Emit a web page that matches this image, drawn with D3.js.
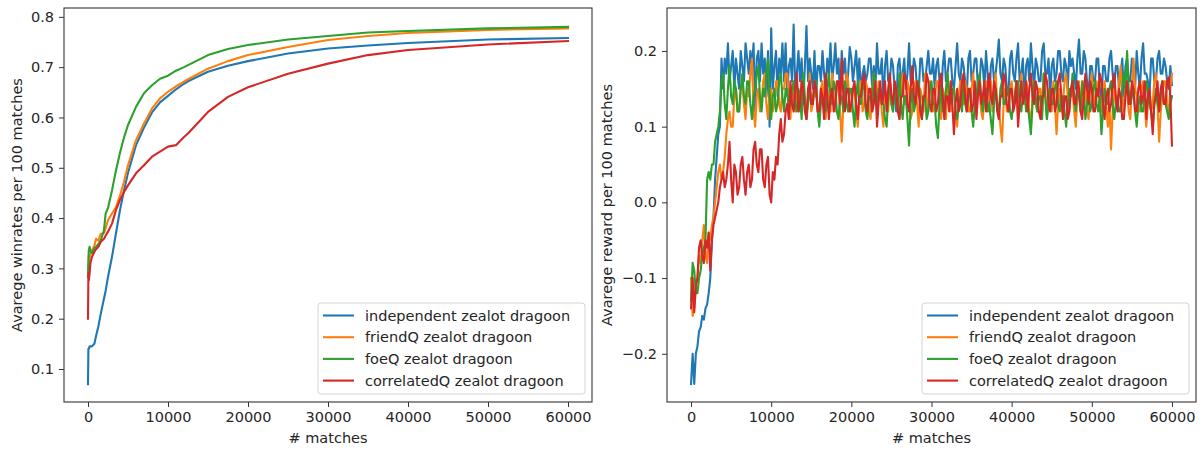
<!DOCTYPE html>
<html>
<head>
<meta charset="utf-8">
<script src="https://cdn.jsdelivr.net/npm/d3@7"></script>
<style>
  body { margin: 0; background: #fff; }
  svg text { font-family: "DejaVu Sans", sans-serif; fill: #262626; }
</style>
</head>
<body>
<script>
// series names + colours (matplotlib tab10)
const seriesNames = ["independent zealot dragoon", "friendQ zealot dragoon", "foeQ zealot dragoon", "correlatedQ zealot dragoon"];
const colors = ["#1f77b4", "#ff7f0e", "#2ca02c", "#d62728"];

// left plot: average winrate, sampled at these match counts
const winMatches = [0, 50, 100, 200, 300, 500, 800, 1000, 1300, 1600, 2000, 2200, 2500, 3000, 3500, 4000, 4500, 5000, 6000, 7000, 8000, 9000, 10000, 11000, 12000, 12500, 15000, 17500, 20000, 25000, 30000, 35000, 40000, 50000, 60000];
const winIndependent = [0.07, 0.14, 0.14, 0.145, 0.145, 0.145, 0.15, 0.165, 0.185, 0.21, 0.24, 0.255, 0.283, 0.323, 0.37, 0.416, 0.455, 0.49, 0.545, 0.58, 0.61, 0.63, 0.643, 0.656, 0.667, 0.672, 0.691, 0.703, 0.712, 0.727, 0.737, 0.743, 0.748, 0.755, 0.758];
const winFriendQ = [0.283, 0.30, 0.31, 0.32, 0.33, 0.336, 0.345, 0.359, 0.355, 0.369, 0.37, 0.38, 0.396, 0.409, 0.422, 0.445, 0.472, 0.505, 0.555, 0.588, 0.618, 0.638, 0.651, 0.662, 0.671, 0.676, 0.697, 0.712, 0.724, 0.74, 0.754, 0.762, 0.768, 0.774, 0.777];
const winFoeQ = [0.283, 0.32, 0.336, 0.343, 0.335, 0.33, 0.34, 0.343, 0.348, 0.356, 0.376, 0.409, 0.42, 0.455, 0.495, 0.53, 0.56, 0.585, 0.621, 0.648, 0.664, 0.677, 0.683, 0.693, 0.70, 0.704, 0.724, 0.736, 0.744, 0.755, 0.762, 0.769, 0.772, 0.777, 0.780];
const winCorrelatedQ = [0.20, 0.29, 0.276, 0.29, 0.31, 0.323, 0.333, 0.338, 0.343, 0.353, 0.359, 0.365, 0.373, 0.389, 0.416, 0.436, 0.452, 0.465, 0.489, 0.505, 0.522, 0.532, 0.542, 0.545, 0.561, 0.568, 0.611, 0.641, 0.66, 0.687, 0.707, 0.724, 0.734, 0.745, 0.752];

// right plot: average reward per 100 matches, one value every 200 matches (0 .. 60000)
const rewIndependent = [
  -0.24, -0.20, -0.24, -0.20, -0.19, -0.17, -0.165, -0.15, -0.155, -0.14,
  -0.135, -0.12, -0.10, -0.05, -0.02, 0.03, 0.06, 0.09, 0.10, 0.19,
  0.15, 0.19, 0.17, 0.21, 0.16, 0.18, 0.20, 0.15, 0.19, 0.17,
  0.15, 0.20, 0.18, 0.16, 0.21, 0.19, 0.17, 0.20, 0.18, 0.21,
  0.12, 0.19, 0.20, 0.16, 0.21, 0.17, 0.19, 0.14, 0.20, 0.10,
  0.23, 0.15, 0.18, 0.20, 0.14, 0.19, 0.17, 0.21, 0.16, 0.21,
  0.14, 0.18, 0.19, 0.16, 0.235, 0.15, 0.17, 0.20, 0.16, 0.19,
  0.13, 0.18, 0.233, 0.16, 0.19, 0.17, 0.15, 0.20, 0.14, 0.18,
  0.18, 0.16, 0.20, 0.17, 0.15, 0.19, 0.17, 0.21, 0.16, 0.18,
  0.21, 0.17, 0.19, 0.13, 0.20, 0.17, 0.19, 0.15, 0.17, 0.205,
  0.19, 0.16, 0.18, 0.20, 0.16, 0.19, 0.14, 0.17, 0.18, 0.16,
  0.17, 0.19, 0.19, 0.15, 0.18, 0.15, 0.21, 0.17, 0.17, 0.19,
  0.13, 0.18, 0.20, 0.16, 0.16, 0.19, 0.18, 0.15, 0.12, 0.18,
  0.19, 0.16, 0.17, 0.19, 0.15, 0.17, 0.21, 0.16, 0.16, 0.19,
  0.18, 0.15, 0.14, 0.19, 0.19, 0.16, 0.16, 0.18, 0.20, 0.17,
  0.17, 0.19, 0.15, 0.18, 0.19, 0.16, 0.13, 0.18, 0.20, 0.16,
  0.17, 0.19, 0.19, 0.16, 0.15, 0.18, 0.21, 0.17, 0.16, 0.19,
  0.18, 0.16, 0.14, 0.19, 0.20, 0.16, 0.17, 0.19, 0.19, 0.15,
  0.16, 0.19, 0.18, 0.15, 0.20, 0.17, 0.12, 0.18, 0.19, 0.16,
  0.17, 0.19, 0.215, 0.17, 0.16, 0.19, 0.18, 0.15, 0.14, 0.19,
  0.20, 0.17, 0.16, 0.19, 0.21, 0.16, 0.17, 0.19, 0.13, 0.18,
  0.19, 0.16, 0.21, 0.18, 0.15, 0.19, 0.18, 0.16, 0.16, 0.20,
  0.21, 0.17, 0.17, 0.19, 0.14, 0.18, 0.19, 0.16, 0.17, 0.20,
  0.20, 0.17, 0.16, 0.19, 0.18, 0.15, 0.20, 0.18, 0.19, 0.17,
  0.15, 0.19, 0.215, 0.17, 0.17, 0.20, 0.19, 0.16, 0.14, 0.18,
  0.18, 0.16, 0.16, 0.19, 0.19, 0.15, 0.13, 0.18, 0.18, 0.16,
  0.16, 0.19, 0.20, 0.17, 0.15, 0.18, 0.18, 0.15, 0.17, 0.19,
  0.14, 0.18, 0.19, 0.16, 0.16, 0.19, 0.18, 0.15, 0.20, 0.17,
  0.15, 0.19, 0.21, 0.17, 0.17, 0.16, 0.14, 0.19, 0.19, 0.16,
  0.16, 0.19, 0.20, 0.17, 0.17, 0.19, 0.18, 0.16, 0.15, 0.18,
  0.155];
const rewFriendQ = [
  -0.10, -0.15, -0.14, -0.11, -0.10, -0.07, -0.08, -0.05, -0.03, -0.07,
  -0.08, -0.04, -0.05, -0.03, -0.02, 0.00, 0.02, 0.04, 0.05, 0.03,
  0.04, 0.06, 0.09, 0.11, 0.12, 0.10, 0.10, 0.14, 0.15, 0.12,
  0.12, 0.15, 0.16, 0.13, 0.11, 0.15, 0.14, 0.17, 0.19, 0.12,
  0.10, 0.14, 0.15, 0.12, 0.13, 0.16, 0.17, 0.13, 0.11, 0.15,
  0.15, 0.12, 0.13, 0.16, 0.16, 0.13, 0.12, 0.15, 0.15, 0.17,
  0.17, 0.13, 0.11, 0.15, 0.14, 0.12, 0.16, 0.13, 0.12, 0.16,
  0.15, 0.13, 0.11, 0.14, 0.17, 0.12, 0.13, 0.16, 0.15, 0.12,
  0.12, 0.15, 0.16, 0.13, 0.11, 0.15, 0.14, 0.12, 0.17, 0.14,
  0.12, 0.16, 0.15, 0.12, 0.08, 0.13, 0.14, 0.17, 0.16, 0.13,
  0.12, 0.15, 0.15, 0.12, 0.10, 0.14, 0.16, 0.12, 0.13, 0.16,
  0.15, 0.12, 0.11, 0.15, 0.17, 0.14, 0.13, 0.16, 0.15, 0.12,
  0.10, 0.15, 0.14, 0.12, 0.16, 0.13, 0.12, 0.16, 0.15, 0.13,
  0.11, 0.14, 0.17, 0.13, 0.13, 0.16, 0.15, 0.11, 0.12, 0.15,
  0.16, 0.13, 0.10, 0.15, 0.14, 0.12, 0.17, 0.14, 0.12, 0.16,
  0.15, 0.12, 0.13, 0.16, 0.16, 0.13, 0.11, 0.15, 0.14, 0.11,
  0.17, 0.14, 0.12, 0.15, 0.15, 0.12, 0.10, 0.14, 0.16, 0.13,
  0.13, 0.16, 0.15, 0.12, 0.12, 0.15, 0.17, 0.14, 0.13, 0.16,
  0.15, 0.12, 0.11, 0.14, 0.16, 0.13, 0.14, 0.16, 0.12, 0.15,
  0.17, 0.13, 0.13, 0.10, 0.08, 0.13, 0.15, 0.12, 0.12, 0.15,
  0.16, 0.13, 0.14, 0.16, 0.11, 0.14, 0.17, 0.14, 0.13, 0.16,
  0.15, 0.12, 0.10, 0.14, 0.16, 0.13, 0.12, 0.15, 0.15, 0.12,
  0.17, 0.14, 0.11, 0.15, 0.14, 0.12, 0.16, 0.13, 0.09, 0.13,
  0.15, 0.12, 0.13, 0.16, 0.17, 0.14, 0.12, 0.15, 0.15, 0.12,
  0.10, 0.14, 0.16, 0.13, 0.13, 0.16, 0.15, 0.12, 0.11, 0.15,
  0.17, 0.14, 0.13, 0.16, 0.15, 0.12, 0.12, 0.15, 0.16, 0.13,
  0.10, 0.13, 0.07, 0.12, 0.15, 0.13, 0.13, 0.16, 0.18, 0.14,
  0.12, 0.15, 0.15, 0.12, 0.11, 0.15, 0.19, 0.15, 0.14, 0.12,
  0.12, 0.15, 0.16, 0.13, 0.10, 0.13, 0.15, 0.12, 0.13, 0.16,
  0.17, 0.13, 0.08, 0.12, 0.14, 0.16, 0.16, 0.13, 0.12, 0.15,
  0.17];
const rewFoeQ = [
  -0.13, -0.08, -0.09, -0.12, -0.12, -0.10, -0.09, -0.07, -0.06, -0.05,
  0.03, 0.04, 0.03, 0.05, 0.05, 0.08, 0.09, 0.10, 0.12, 0.16,
  0.17, 0.13, 0.11, 0.15, 0.18, 0.14, 0.13, 0.16, 0.15, 0.12,
  0.12, 0.15, 0.17, 0.14, 0.13, 0.16, 0.16, 0.13, 0.11, 0.14,
  0.15, 0.17, 0.18, 0.14, 0.12, 0.15, 0.14, 0.17, 0.19, 0.14,
  0.11, 0.14, 0.15, 0.12, 0.13, 0.16, 0.17, 0.14, 0.12, 0.15,
  0.15, 0.12, 0.13, 0.15, 0.16, 0.13, 0.12, 0.15, 0.14, 0.11,
  0.17, 0.14, 0.11, 0.13, 0.15, 0.13, 0.13, 0.16, 0.16, 0.12,
  0.10, 0.13, 0.14, 0.12, 0.12, 0.15, 0.17, 0.14, 0.13, 0.16,
  0.15, 0.12, 0.11, 0.14, 0.14, 0.12, 0.16, 0.13, 0.12, 0.15,
  0.15, 0.12, 0.10, 0.14, 0.16, 0.13, 0.13, 0.16, 0.15, 0.12,
  0.11, 0.14, 0.14, 0.12, 0.17, 0.14, 0.12, 0.15, 0.15, 0.13,
  0.13, 0.11, 0.10, 0.14, 0.16, 0.13, 0.12, 0.15, 0.14, 0.12,
  0.17, 0.13, 0.11, 0.14, 0.14, 0.11, 0.075, 0.13, 0.15, 0.12,
  0.13, 0.15, 0.16, 0.13, 0.11, 0.14, 0.14, 0.11, 0.12, 0.15,
  0.16, 0.13, 0.13, 0.10, 0.085, 0.13, 0.15, 0.12, 0.12, 0.15,
  0.17, 0.14, 0.13, 0.15, 0.15, 0.12, 0.11, 0.13, 0.14, 0.12,
  0.16, 0.13, 0.12, 0.14, 0.15, 0.12, 0.10, 0.13, 0.14, 0.16,
  0.17, 0.14, 0.12, 0.14, 0.15, 0.12, 0.13, 0.11, 0.09, 0.13,
  0.15, 0.13, 0.12, 0.15, 0.16, 0.13, 0.13, 0.15, 0.15, 0.12,
  0.11, 0.13, 0.14, 0.16, 0.16, 0.13, 0.12, 0.14, 0.15, 0.12,
  0.13, 0.11, 0.09, 0.13, 0.16, 0.14, 0.12, 0.14, 0.14, 0.11,
  0.17, 0.14, 0.11, 0.13, 0.15, 0.13, 0.13, 0.15, 0.16, 0.13,
  0.12, 0.14, 0.14, 0.12, 0.10, 0.13, 0.15, 0.14, 0.17, 0.14,
  0.12, 0.15, 0.14, 0.12, 0.16, 0.14, 0.11, 0.13, 0.15, 0.12,
  0.13, 0.15, 0.16, 0.13, 0.12, 0.14, 0.09, 0.12, 0.15, 0.13,
  0.13, 0.15, 0.16, 0.13, 0.11, 0.13, 0.14, 0.12, 0.12, 0.15,
  0.17, 0.15, 0.20, 0.15, 0.13, 0.14, 0.15, 0.12, 0.10, 0.13,
  0.14, 0.12, 0.12, 0.15, 0.16, 0.14, 0.13, 0.12, 0.10, 0.13,
  0.15, 0.13, 0.12, 0.14, 0.16, 0.13, 0.13, 0.12, 0.11, 0.13,
  0.14];
const rewCorrelatedQ = [
  -0.14, -0.10, -0.145, -0.11, -0.10, -0.06, -0.05, -0.07, -0.08, -0.05,
  -0.06, -0.04, -0.09, -0.05, -0.03, -0.02, -0.01, 0.00, 0.02, 0.03,
  0.04, 0.02, 0.03, 0.05, 0.08, 0.03, 0.00, 0.05, 0.04, 0.01,
  0.02, 0.05, 0.06, 0.03, 0.01, 0.04, 0.05, 0.02, 0.03, 0.07,
  0.08, 0.05, 0.04, 0.07, 0.07, 0.03, 0.02, 0.05, 0.06, 0.01,
  0.00, 0.04, 0.03, 0.06, 0.05, 0.09, 0.11, 0.08, 0.09, 0.12,
  0.13, 0.11, 0.16, 0.13, 0.12, 0.15, 0.17, 0.12, 0.13, 0.16,
  0.15, 0.12, 0.11, 0.15, 0.16, 0.13, 0.13, 0.16, 0.15, 0.12,
  0.12, 0.15, 0.14, 0.11, 0.17, 0.14, 0.11, 0.14, 0.15, 0.12,
  0.13, 0.16, 0.16, 0.13, 0.19, 0.14, 0.12, 0.15, 0.15, 0.12,
  0.13, 0.15, 0.16, 0.13, 0.11, 0.14, 0.14, 0.16, 0.17, 0.13,
  0.12, 0.15, 0.15, 0.12, 0.13, 0.16, 0.10, 0.13, 0.16, 0.13,
  0.14, 0.16, 0.12, 0.15, 0.17, 0.14, 0.13, 0.16, 0.15, 0.12,
  0.11, 0.14, 0.14, 0.17, 0.16, 0.13, 0.12, 0.15, 0.18, 0.14,
  0.13, 0.16, 0.15, 0.12, 0.11, 0.14, 0.14, 0.17, 0.16, 0.13,
  0.12, 0.15, 0.15, 0.12, 0.13, 0.16, 0.17, 0.14, 0.11, 0.14,
  0.14, 0.12, 0.16, 0.13, 0.09, 0.13, 0.15, 0.12, 0.13, 0.16,
  0.17, 0.14, 0.12, 0.15, 0.15, 0.12, 0.13, 0.16, 0.11, 0.14,
  0.16, 0.13, 0.14, 0.16, 0.12, 0.15, 0.17, 0.14, 0.13, 0.16,
  0.15, 0.12, 0.11, 0.14, 0.14, 0.17, 0.16, 0.13, 0.12, 0.15,
  0.15, 0.12, 0.13, 0.16, 0.10, 0.13, 0.16, 0.13, 0.14, 0.16,
  0.12, 0.15, 0.17, 0.14, 0.13, 0.16, 0.15, 0.12, 0.11, 0.14,
  0.14, 0.17, 0.16, 0.13, 0.12, 0.15, 0.15, 0.12, 0.13, 0.16,
  0.17, 0.14, 0.11, 0.14, 0.14, 0.11, 0.12, 0.15, 0.16, 0.13,
  0.13, 0.16, 0.15, 0.12, 0.11, 0.14, 0.17, 0.15, 0.13, 0.16,
  0.15, 0.12, 0.12, 0.15, 0.14, 0.17, 0.16, 0.13, 0.11, 0.14,
  0.15, 0.12, 0.13, 0.16, 0.17, 0.14, 0.12, 0.15, 0.14, 0.11,
  0.11, 0.14, 0.16, 0.13, 0.13, 0.16, 0.15, 0.12, 0.12, 0.15,
  0.16, 0.13, 0.14, 0.16, 0.11, 0.14, 0.15, 0.12, 0.09, 0.13,
  0.14, 0.16, 0.12, 0.15, 0.16, 0.13, 0.13, 0.16, 0.165, 0.14,
  0.075];

const xTicks = [0, 10000, 20000, 30000, 40000, 50000, 60000];
const winTicks = [0.1, 0.2, 0.3, 0.4, 0.5, 0.6, 0.7, 0.8];
const rewTicks = [-0.2, -0.1, 0.0, 0.1, 0.2];

const W = 1201, H = 450;
const svg = d3.select("body").append("svg")
    .attr("width", W)
    .attr("height", H);

function drawPanel(opts) {
    const g = svg.append("g");
    const x = d3.scaleLinear().domain([-3000, 63000]).range([opts.left, opts.right]);
    const y = d3.scaleLinear().domain(opts.yDomain).range([402, 8]);

    const line = d3.line()
        .x(d => x(d[0]))
        .y(d => y(d[1]));

    opts.series.forEach((vals, i) => {
        const pts = vals.map((v, j) => [opts.xs ? opts.xs[j] : j * 60000 / (vals.length - 1), v]);
        g.append("path")
            .attr("d", line(pts))
            .attr("fill", "none")
            .attr("stroke", colors[i])
            .attr("stroke-width", 2.1)
            .attr("stroke-linejoin", "round")
            .attr("stroke-linecap", "square");
    });

    // axes
    const xAxis = g.append("g")
        .attr("transform", "translate(0,402)")
        .call(d3.axisBottom(x).tickValues(xTicks).tickSize(5).tickPadding(5).tickSizeOuter(0).tickFormat(d3.format("d")));
    const yAxis = g.append("g")
        .attr("transform", "translate(" + opts.left + ",0)")
        .call(d3.axisLeft(y).tickValues(opts.ticks).tickSize(5).tickPadding(5).tickSizeOuter(0).tickFormat(d3.format(".1f")));
    [xAxis, yAxis].forEach(a => {
        a.select(".domain").remove();
        a.selectAll("line").attr("stroke", "#333").attr("stroke-width", 1);
        a.selectAll("text").style("font-size", "14.5px").attr("fill", "#262626");
    });

    // frame
    g.append("rect")
        .attr("x", opts.left).attr("y", 8)
        .attr("width", opts.right - opts.left).attr("height", 394)
        .attr("fill", "none").attr("stroke", "#333").attr("stroke-width", 1.1);

    // labels
    g.append("text")
        .attr("x", (opts.left + opts.right) / 2).attr("y", 443)
        .attr("text-anchor", "middle")
        .style("font-size", "14.5px")
        .text("# matches");
    g.append("text")
        .attr("transform", "translate(" + opts.yLabelX + ",205) rotate(-90)")
        .attr("text-anchor", "middle")
        .style("font-size", "14.5px")
        .text(opts.yLabel);

    // legend
    const lx = opts.right - 274, ly = 303;
    const leg = g.append("g");
    leg.append("rect")
        .attr("x", lx).attr("y", ly).attr("width", 267).attr("height", 91)
        .attr("rx", 3)
        .attr("fill", "#fff").attr("fill-opacity", 0.8)
        .attr("stroke", "#d4d4d4").attr("stroke-width", 1);
    seriesNames.forEach((name, i) => {
        const yy = ly + 12.5 + i * 21.7;
        leg.append("line")
            .attr("x1", lx + 5).attr("x2", lx + 36)
            .attr("y1", yy).attr("y2", yy)
            .attr("stroke", colors[i]).attr("stroke-width", 2.1);
        leg.append("text")
            .attr("x", lx + 47).attr("y", yy + 5)
            .style("font-size", "14.5px")
            .text(name);
    });
}

drawPanel({
    left: 64, right: 592,
    yDomain: [0.0344, 0.8176],
    ticks: winTicks,
    xs: winMatches,
    series: [winIndependent, winFriendQ, winFoeQ, winCorrelatedQ],
    yLabel: "Avarege winrates per 100 matches",
    yLabelX: 22
});

drawPanel({
    left: 667, right: 1196,
    yDomain: [-0.2637, 0.2567],
    ticks: rewTicks,
    series: [rewIndependent, rewFriendQ, rewFoeQ, rewCorrelatedQ],
    yLabel: "Avarege reward per 100 matches",
    yLabelX: 612
});
</script>
</body>
</html>
